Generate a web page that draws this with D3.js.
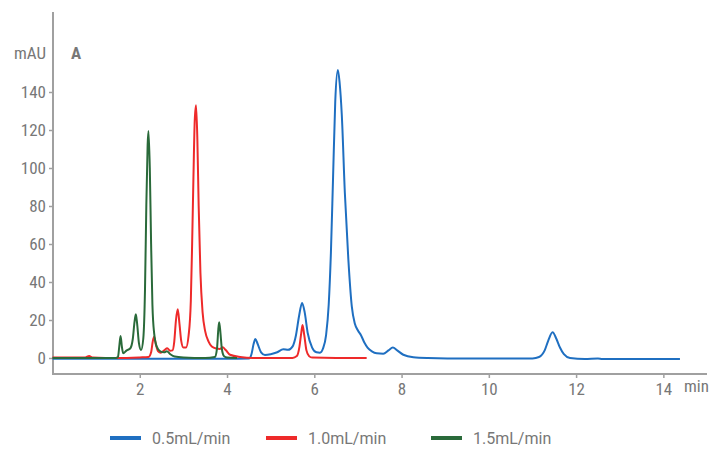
<!DOCTYPE html>
<html>
<head>
<meta charset="utf-8">
<script src="https://cdn.jsdelivr.net/npm/d3@7/dist/d3.min.js"></script>
<style>
  html, body { margin: 0; padding: 0; background: #fff; }
  svg { display: block; }
  .tick text, .lbl { font-family: "Roboto Condensed", "Liberation Sans Narrow", "DejaVu Sans Condensed", "Roboto", sans-serif; fill: #777; }
  .leg { font-family: "Roboto", "Noto Sans", sans-serif; fill: #777; font-size: 16px; }
</style>
</head>
<body>
<svg id="chart" width="727" height="451"></svg>
<script>
// ---- data (time in min, absorbance in mAU) ----
const seriesNames = ["0.5mL/min", "1.0mL/min", "1.5mL/min"];
const seriesColors = ["#1f6fc1", "#ee2a2a", "#2a6a3a"];
const xTicks = [2, 4, 6, 8, 10, 12, 14];
const yTicks = [0, 20, 40, 60, 80, 100, 120, 140];

const blue = [[0,-0.4],[4.0,-0.4],[4.50,-0.3],[4.56,2],[4.61,7.5],[4.65,10],[4.70,7.5],[4.78,3],[4.87,1.6],[5.00,2],[5.15,3],[5.29,4.6],[5.40,4.3],[5.50,6],[5.58,12],[5.65,22],[5.72,29],[5.78,24],[5.85,13],[5.95,5.5],[6.05,3],[6.13,2.8],[6.20,5],[6.27,12],[6.33,28],[6.38,55],[6.43,95],[6.48,135],[6.54,151.6],[6.58,145],[6.63,128],[6.70,87],[6.78,52],[6.86,27],[6.93,18],[7.00,14.5],[7.07,12],[7.15,8],[7.22,5.5],[7.32,3.5],[7.43,2.5],[7.58,2.3],[7.70,4],[7.80,5.5],[7.90,4],[8.04,1.7],[8.27,0.4],[8.6,0],[9.5,-0.3],[10.5,-0.3],[11.0,-0.2],[11.15,0.5],[11.28,4],[11.36,9],[11.46,13.5],[11.55,10],[11.63,5.5],[11.72,2],[11.86,0],[12.2,-0.5],[12.5,-0.2],[12.6,-0.5],[14.38,-0.5]];

const red = [[0,0.3],[0.75,0.3],[0.84,1],[0.92,0.3],[1.5,0],[2.0,0.3],[2.2,0.5],[2.26,3],[2.30,9],[2.33,11.2],[2.37,7],[2.42,3.5],[2.48,2.8],[2.56,4],[2.63,5.1],[2.70,3.8],[2.75,4],[2.79,8.5],[2.83,20],[2.87,25.6],[2.91,18],[2.95,9],[3.00,5.5],[3.06,5.5],[3.12,12],[3.17,30],[3.20,60],[3.23,95],[3.26,125],[3.29,133],[3.32,115],[3.35,80],[3.39,45],[3.44,24],[3.50,14],[3.58,8.5],[3.65,6],[3.75,5],[3.84,4.8],[3.90,5.6],[3.97,4.2],[4.07,1.7],[4.30,0.5],[4.6,0],[5.5,0],[5.60,1],[5.66,6],[5.70,13],[5.73,17.4],[5.77,12],[5.82,4],[5.88,1],[5.95,0.2],[6.5,0],[7.2,0]];

const green = [[0,0],[1.45,0],[1.50,0.5],[1.53,6],[1.56,11.6],[1.59,6],[1.62,2.5],[1.70,4],[1.78,5],[1.84,10],[1.88,19],[1.91,23],[1.94,18],[1.98,8],[2.03,4.2],[2.08,10],[2.12,36],[2.15,80],[2.18,112],[2.20,119.5],[2.23,100],[2.26,60],[2.29,28],[2.33,13],[2.39,6],[2.47,3.5],[2.56,3],[2.62,3.5],[2.70,2],[2.80,0.8],[3.0,0.3],[3.5,0],[3.72,0.5],[3.77,5],[3.80,15],[3.82,18.8],[3.85,13],[3.88,5],[3.93,1],[4.0,0.2],[4.23,0]];

const allSeries = [blue, red, green];

// ---- drawing ----
const svg = d3.select("#chart");
const axisColor = "#a0a0a0";
const x = d3.scaleLinear().domain([0, 15]).range([52.5, 707]);
const y = d3.scaleLinear().domain([0, 140]).range([358, 92]);
const axisY = 374, axisTop = 12;

// y axis
const gy = svg.append("g").attr("transform", "translate(53,0)")
  .call(d3.axisLeft(y).tickValues(yTicks).tickSize(4).tickPadding(3));
gy.select(".domain").remove();
gy.selectAll(".tick line").attr("stroke", axisColor).attr("stroke-width", 1.5);
gy.selectAll(".tick text").attr("font-size", 17).style("fill", "#777");
svg.append("line").attr("x1", 53).attr("x2", 53).attr("y1", axisTop).attr("y2", axisY + 1)
  .attr("stroke", axisColor).attr("stroke-width", 2);

// x axis
const gx = svg.append("g").attr("transform", `translate(0,${axisY})`)
  .call(d3.axisBottom(x).tickValues(xTicks).tickSize(4).tickPadding(5));
gx.select(".domain").remove();
gx.selectAll(".tick line").attr("stroke", axisColor).attr("stroke-width", 1.5);
gx.selectAll(".tick text").attr("font-size", 17).style("fill", "#777");
svg.append("line").attr("x1", 52).attr("x2", 707).attr("y1", axisY).attr("y2", axisY)
  .attr("stroke", axisColor).attr("stroke-width", 2);

svg.append("text").attr("class", "lbl").attr("x", 684).attr("y", 392).attr("font-size", 17).text("min");
svg.append("text").attr("class", "lbl").attr("x", 46).attr("y", 59).attr("text-anchor", "end").attr("font-size", 17).text("mAU");
svg.append("text").attr("class", "lbl").attr("x", 71).attr("y", 59).attr("font-size", 17).attr("font-weight", "bold").text("A");

// curves
const line = d3.line().x(d => x(d[0])).y(d => y(d[1])).curve(d3.curveMonotoneX);
allSeries.forEach((s, i) => {
  svg.append("path").datum(s).attr("d", line)
    .attr("fill", "none").attr("stroke", seriesColors[i]).attr("stroke-width", 2)
    .attr("stroke-linejoin", "round");
});

// legend
const legX = [110, 266, 431];
seriesNames.forEach((n, i) => {
  const g = svg.append("g").attr("transform", `translate(${legX[i]},438)`);
  g.append("line").attr("x1", 0).attr("x2", 31).attr("y1", 0).attr("y2", 0)
    .attr("stroke", seriesColors[i]).attr("stroke-width", 4);
  g.append("text").attr("class", "leg").attr("x", 42).attr("y", 6).text(n);
});
</script>
</body>
</html>
